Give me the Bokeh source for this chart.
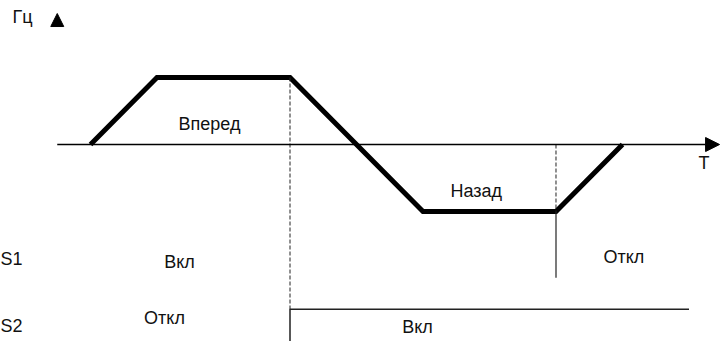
from bokeh.plotting import figure
from bokeh.models import Range1d, Arrow, NormalHead, Label
from bokeh.embed import file_html
from bokeh.resources import INLINE

# Frequency profile (time units, relative frequency)
times = [0, 1, 3, 5, 7, 8]
freq = [0, 1, 1, -1, -1, 0]

# Switch events
t_s2_on = 3      # S2 switches on (reverse)
t_s1_off = 7     # S1 switches off
t_end = 9        # end of S2 trace

# Label texts
lbl_forward = "Вперед"
lbl_back = "Назад"
lbl_on = "Вкл"
lbl_off = "Откл"
lbl_hz = "Гц"
lbl_t = "T"

# Trace levels (layout only)
s2_level = -2.46
s1_drop = -1.99

FONT = "Liberation Sans"
FS = "18px"
COL = "#111111"

p = figure(width=728, height=341, output_backend="svg", toolbar_location=None,
           x_range=Range1d(-1.3534, 9.5940), y_range=Range1d(-2.9403, 2.1493),
           x_axis_location=None, y_axis_location=None, min_border=0,
           background_fill_color="white", border_fill_color="white")
p.outline_line_color = None
p.grid.visible = False

# Time axis with arrow
p.add_layout(Arrow(end=NormalHead(size=14, fill_color="black", line_color="black", line_width=1),
                   x_start=-0.5, y_start=0, x_end=9.46, y_end=0,
                   line_color="black", line_width=1.5))
# Frequency axis arrowhead only
p.add_layout(Arrow(end=NormalHead(size=13, fill_color="black", line_color="black", line_width=1),
                   x_start=-0.5, y_start=1.70, x_end=-0.5, y_end=1.955,
                   line_alpha=0))

# Frequency profile
p.line(times, freq, line_width=5, line_color="black", line_join="miter", line_cap="butt")

# Dashed markers
p.line([t_s2_on, t_s2_on], [freq[2], s2_level], line_dash="4 2", line_color="#222222", line_width=1)
p.line([t_s1_off, t_s1_off], [0, freq[4]], line_dash="4 2", line_color="#222222", line_width=1)

# S1 step (off at t_s1_off)
p.line([t_s1_off, t_s1_off], [freq[4], s1_drop], line_color="#222222", line_width=1.2)

# S2 trace (on from t_s2_on)
p.line([t_s2_on, t_s2_on, t_end], [-3.2, s2_level, s2_level], line_color="#222222", line_width=1.5)

DY = 0.104

def lab(x, y, txt, align="center"):
    p.add_layout(Label(x=x, y=y + DY, text=txt, text_align=align, text_baseline="alphabetic",
                       text_font=FONT, text_font_size=FS, text_color=COL))

lab(-1.173, 1.806, lbl_hz, "left")
lab(9.226, -0.373, lbl_t)
lab(1.79, 0.209, lbl_forward)
lab(5.80, -0.791, lbl_back)
lab(-1.3534, -1.806, "S1", "left")
lab(-1.3534, -2.806, "S2", "left")
lab(1.338, -1.851, lbl_on)
lab(8.02, -1.776, lbl_off)
lab(1.113, -2.701, lbl_off)
lab(4.917, -2.83, lbl_on)

open("out.html", "w").write(file_html(p, INLINE))
